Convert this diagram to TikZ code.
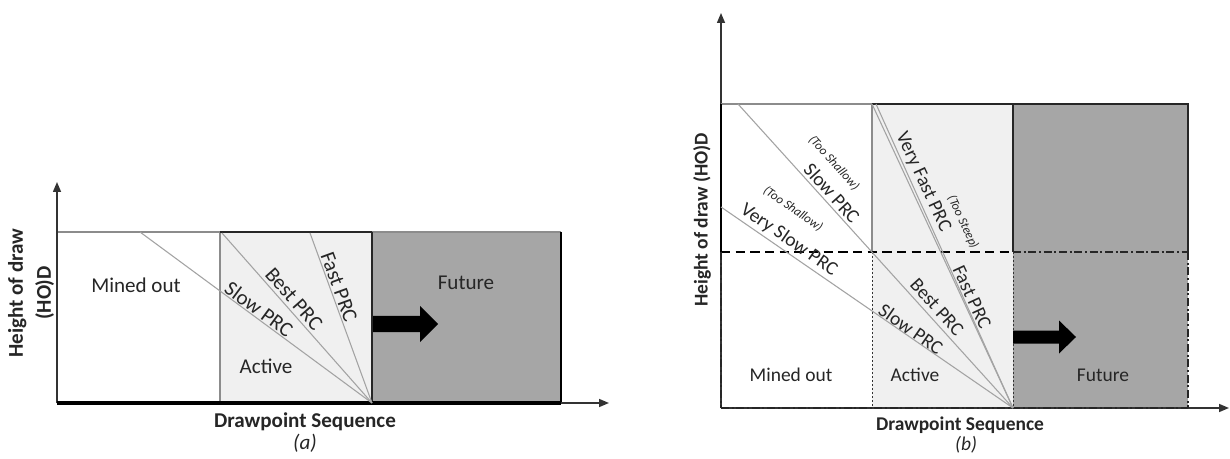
\documentclass[tikz,border=0pt]{standalone}
\usepackage{fontspec}
\setmainfont{Carlito}
\usetikzlibrary{arrows.meta}
\definecolor{activefill}{HTML}{F0F0F0}
\definecolor{futurefill}{HTML}{A6A6A6}
\definecolor{prcline}{HTML}{A3A3A3}
\definecolor{txt}{HTML}{262626}
\definecolor{edgegray}{HTML}{8C8C8C}
\begin{document}
\begin{tikzpicture}[x=0.75pt,y=-0.75pt,
  axis/.style={draw=black!80, line width=1.1pt, -{Triangle[length=7.5pt,width=6pt]}},
  prc/.style={draw=prcline, line width=0.8pt},
  laba/.style={text=txt, font=\fontsize{15.8}{19}\selectfont, inner sep=0},
  labb/.style={text=txt, font=\fontsize{14.6}{17.5}\selectfont, inner sep=0},
  note/.style={text=txt, font=\fontsize{9.5}{11}\selectfont\itshape, inner sep=0},
  bigarrow/.style={fill=black, draw=none},
  thinedge/.style={draw=edgegray, line width=0.9pt},
  darkedge/.style={draw=black!85, line width=1.3pt},
  dashdotedge/.style={draw=black!85, line width=1.6pt, dash pattern=on 6pt off 2pt on 1.5pt off 2pt},
  dottededge/.style={draw=black!80, line width=0.7pt, dash pattern=on 1.5pt off 1.5pt},
]
\useasboundingbox (0,0) rectangle (1230,459);

% ================= panel (a) =================
\coordinate (aTL) at (57,232);
\coordinate (aM) at (220,232);
\coordinate (aA) at (372,232);
\coordinate (aTR) at (561,232);
\coordinate (aBL) at (57,403);
\coordinate (aMB) at (220,403);
\coordinate (aP) at (372,403);
\coordinate (aBR) at (561,403);
\coordinate (aYtip) at (57,182);
\coordinate (aXtip) at (609,403);

\fill[white] (aTL) rectangle (aMB);
\fill[activefill] (aM) rectangle (aP);
\fill[futurefill] (aA) rectangle (aBR);
\draw[thinedge] (aTL) -- (aM) -- (aMB);
\draw[darkedge] (aM) -- (aA);
\draw[thinedge] (aA) -- (aTR);
\draw[darkedge] (aA) -- (aP);
\draw[draw=black, line width=1.8pt] (aTR) -- (aBR);
\draw[axis] (aBL) -- (aYtip);
\draw[axis] (aBL) -- (aXtip);
\draw[draw=black, line width=2.4pt] (aBL) -- (aBR);

\coordinate (aS0) at (140,232);
\coordinate (aB0) at (222,233);
\coordinate (aF0) at (310,233);
\draw[prc] (aS0) -- (aP);
\draw[prc] (aB0) -- (aP);
\draw[prc] (aF0) -- (aP);

\fill[bigarrow] (373,316) -- (420,316) -- (420,306) -- (438,324) -- (420,342) -- (420,332) -- (373,332) -- cycle;

\node[laba] (minedA) at (136,285) {Mined out};
\node[laba] (activeA) at (266,366) {Active};
\node[laba] (futureA) at (466,283) {Future};
\node[laba, rotate=-36.4] (slowA) at (259,309) {Slow PRC};
\node[laba, rotate=-48.6] (bestA) at (294,299) {Best PRC};
\node[laba, rotate=-70] (fastA) at (339,287) {Fast PRC};
\node[laba, font=\fontsize{15.8}{19}\selectfont\bfseries] (xlabA) at (305,422) {Drawpoint Sequence};
\node[laba, font=\fontsize{15.8}{19}\selectfont\itshape] (capA) at (305,443) {(a)};
\node[laba, font=\fontsize{15.8}{21}\selectfont\bfseries, rotate=90, align=center] (ylabA) at (31,293) {Height of draw\\(HO)D};

% ================= panel (b) =================
\coordinate (bTL) at (721,104);
\coordinate (bM) at (872,104);
\coordinate (bA) at (1013,104);
\coordinate (bTR) at (1188,104);
\coordinate (bLm) at (721,252);
\coordinate (bMm) at (872,252);
\coordinate (bAm) at (1013,252);
\coordinate (bRm) at (1188,252);
\coordinate (bBL) at (721,408);
\coordinate (bMB) at (872,408);
\coordinate (bP) at (1013,408);
\coordinate (bBR) at (1188,408);
\coordinate (bYtip) at (721,13);
\coordinate (bXtip) at (1229,408);

\fill[white] (bTL) rectangle (bMB);
\fill[activefill] (bM) rectangle (bP);
\fill[futurefill] (bA) rectangle (bBR);

\draw[axis] (bBL) -- (bYtip);
\draw[axis] (bBL) -- (bXtip);

\draw[thinedge] (bTL) -- (bM) -- (bMm);
\draw[darkedge] (bM) -- (bTR) -- (bRm);
\draw[darkedge] (bA) -- (bAm);
\draw[draw=black, line width=1.8pt] (bTL) -- (bLm);
\draw[draw=black, line width=2pt, dash pattern=on 7pt off 4pt] (bLm) -- (bAm);
\draw[dashdotedge] (bAm) -- (bRm);
\draw[dashdotedge] (bLm) -- (bBL);
\draw[dashdotedge] (bRm) -- (bBR);
\draw[dashdotedge, line width=2pt] (bBL) -- (bBR);
\draw[dottededge] (bMm) -- (bMB);
\draw[dottededge] (bAm) -- (bP);

\coordinate (bS0) at (738,104);
\coordinate (bV0) at (721,207);
\coordinate (bF1) at (876,104);
\draw[prc] (bS0) -- (bP);
\draw[prc] (bV0) -- (bP);
\draw[prc] (bM) -- (bP);
\draw[prc] (bF1) -- (bP);

\fill[bigarrow] (1013,330.5) -- (1059,330.5) -- (1059,320.5) -- (1076,337) -- (1059,353.5) -- (1059,343.5) -- (1013,343.5) -- cycle;

\node[labb] (minedB) at (791,375) {Mined out};
\node[labb] (activeB) at (915,375) {Active};
\node[labb] (futureB) at (1103,375) {Future};
\node[labb, rotate=-47.9] (slowUB) at (832,193) {Slow PRC};
\node[note, rotate=-47.9] (shallowU) at (834,163) {(Too Shallow)};
\node[labb, rotate=-34.5] (vslowB) at (789,240) {Very Slow PRC};
\node[note, rotate=-34.5] (shallowL) at (793,209) {(Too Shallow)};
\node[labb, rotate=-65.1] (vfastB) at (923,182) {Very Fast PRC};
\node[note, rotate=-65.1] (steep) at (963,222) {(Too Steep)};
\node[labb, rotate=-65.1] (fastB) at (972,297) {Fast PRC};
\node[labb, rotate=-47.9] (bestB) at (937,307) {Best PRC};
\node[labb, rotate=-34.5] (slowLB) at (911,329) {Slow PRC};
\node[labb, font=\fontsize{14.6}{17.5}\selectfont\bfseries] (xlabB) at (960,425) {Drawpoint Sequence};
\node[labb, font=\fontsize{14.6}{17.5}\selectfont\itshape] (capB) at (966,445) {(b)};
\node[labb, font=\fontsize{14.6}{17.5}\selectfont\bfseries, rotate=90] (ylabB) at (702,220) {Height of draw (HO)D};
\end{tikzpicture}
\end{document}
